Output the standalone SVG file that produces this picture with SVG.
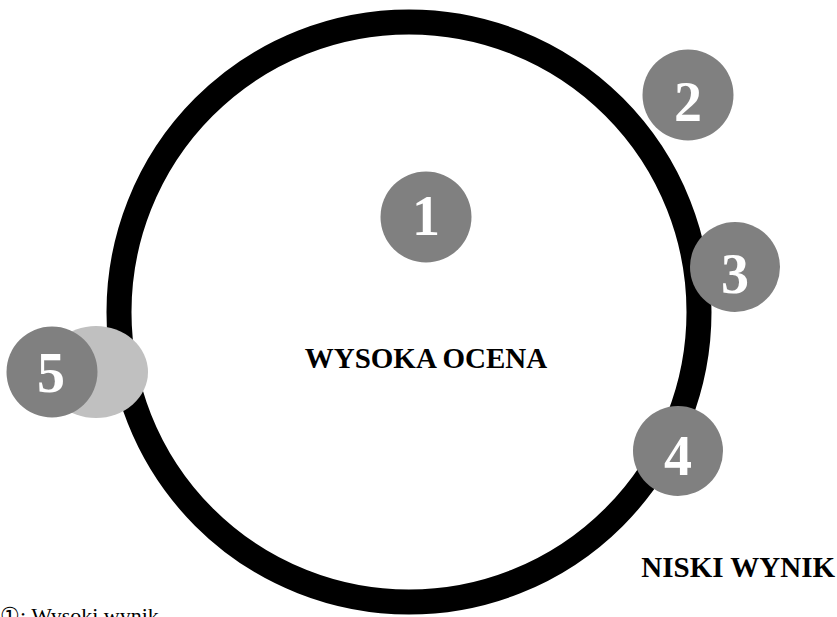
<svg xmlns="http://www.w3.org/2000/svg" width="837" height="617" viewBox="0 0 837 617">
<style>
.badge{fill:#808080}
.num{font-family:"Liberation Serif","Times New Roman",serif;font-weight:bold;font-size:56px;fill:#ffffff;text-anchor:middle}
.lbl{font-family:"Liberation Serif","Times New Roman",serif;font-weight:bold;font-size:29px;fill:#000000}
.note{font-family:"Liberation Serif","DejaVu Serif",serif;font-size:22px;fill:#000000}
</style>
<rect width="837" height="617" fill="#ffffff"/>
<g id="ring">
<circle cx="409" cy="312" r="290" fill="none" stroke="#000000" stroke-width="25"/>
</g>
<g id="connectors"></g>
<g id="label-high">
<text class="lbl" x="426" y="368" text-anchor="middle">WYSOKA OCENA</text>
</g>
<g id="label-low">
<text class="lbl" x="835" y="577" text-anchor="end">NISKI WYNIK</text>
</g>
<g id="node1">
<circle class="badge" cx="426" cy="217" r="45.5"/>
<text class="num" x="426" y="235">1</text>
</g>
<g id="node2">
<circle class="badge" cx="688" cy="95" r="45.5"/>
<text class="num" x="688" y="121">2</text>
</g>
<g id="node3">
<circle class="badge" cx="735" cy="267" r="45"/>
<text class="num" x="735" y="293">3</text>
</g>
<g id="node4">
<circle class="badge" cx="678" cy="451" r="45"/>
<text class="num" x="678" y="475">4</text>
</g>
<g id="node5">
<ellipse cx="96" cy="372" rx="52" ry="46" fill="#c0c0c0"/>
<circle class="badge" cx="52" cy="372" r="45.5"/>
<text class="num" x="51" y="392">5</text>
</g>
<g id="legend">
<text class="note" x="0" y="623">①: Wysoki wynik</text>
</g>
</svg>
